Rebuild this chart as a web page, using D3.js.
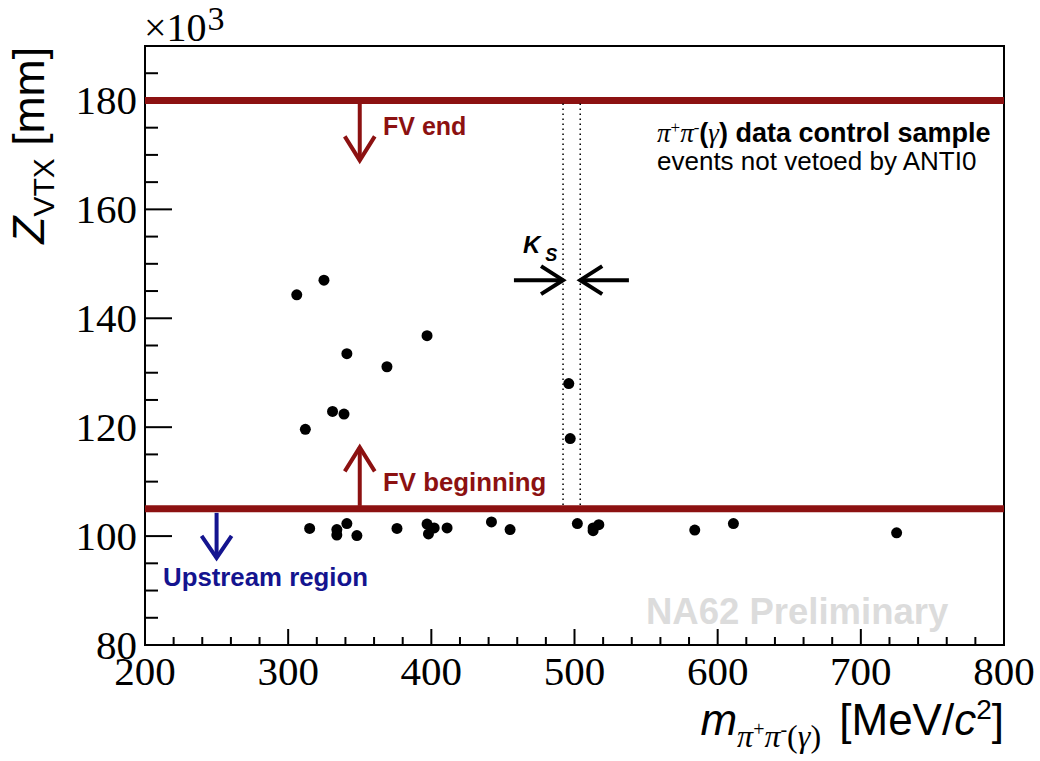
<!DOCTYPE html>
<html>
<head>
<meta charset="utf-8">
<script src="https://cdn.jsdelivr.net/npm/d3@7"></script>
<style>
  body { margin: 0; background: #fff; }
  svg { display: block; }
</style>
</head>
<body>
<div id="chart"></div>
<script>
// Events: invariant mass (MeV/c^2) and Z vertex (x10^3 mm)
const massValues = [306, 325, 397, 341, 369, 331, 339, 312, 496, 497,
  315, 334, 334, 341, 348, 376, 397, 398, 402, 411, 442, 455, 502, 513, 513, 517, 584, 611, 725];
const zvtxValues = [144.3, 147.0, 136.8, 133.5, 131.1, 122.9, 122.4, 119.6, 128.0, 117.9,
  101.4, 101.2, 100.2, 102.3, 100.1, 101.4, 102.2, 100.4, 101.5, 101.5, 102.6, 101.2, 102.3, 101.0, 101.5, 102.1, 101.1, 102.3, 100.6];

const xTicks = [200, 300, 400, 500, 600, 700, 800];
const yTicks = [80, 100, 120, 140, 160, 180];

// fiducial volume limits and K_S mass window
const fvEnd = 180;
const fvBegin = 105;
const ksWindow = [492, 504];

const DARK_RED = '#8c1111';
const DARK_BLUE = '#14148f';

const width = 1040, height = 761;
const margin = { left: 145, right: 36, top: 46, bottom: 116 };

const x = d3.scaleLinear().domain([200, 800]).range([margin.left, width - margin.right]);
const y = d3.scaleLinear().domain([80, 190]).range([height - margin.bottom, margin.top]);

// single family names only: the renderer falls back to its default with lists
const SERIF = "'Liberation Serif'";
const SANS = "'Liberation Sans'";

const svg = d3.select('#chart').append('svg')
  .attr('width', width)
  .attr('height', height);

// small helper to set font styles on a text / tspan
function font(sel, family, size, weight, fstyle) {
  sel.style('font-family', family).style('font-size', size + 'px');
  if (weight) sel.style('font-weight', weight);
  if (fstyle) sel.style('font-style', fstyle);
  return sel;
}

// --- axes (ROOT style: major + minor ticks pointing inward) ---
const xMinor = d3.range(200, 801, 20);
const yMinor = d3.range(80, 191, 5);
const axes = svg.append('g').attr('stroke', '#000').attr('stroke-width', 2);

axes.selectAll('line.xt').data(xMinor).join('line')
  .attr('x1', d => x(d)).attr('x2', d => x(d))
  .attr('y1', y(80)).attr('y2', d => y(80) - (d % 100 === 0 ? 16 : 8));

axes.selectAll('line.yt').data(yMinor).join('line')
  .attr('y1', d => y(d)).attr('y2', d => y(d))
  .attr('x1', x(200)).attr('x2', d => x(200) + (d % 20 === 0 ? 27 : 13));

svg.append('rect')
  .attr('x', x(200)).attr('y', y(190))
  .attr('width', x(800) - x(200)).attr('height', y(80) - y(190))
  .attr('fill', 'none').attr('stroke', '#000').attr('stroke-width', 2);

svg.append('g').selectAll('text').data(xTicks).join('text')
  .call(font, SERIF, 41)
  .attr('x', d => x(d)).attr('y', y(80) + 40)
  .attr('text-anchor', 'middle')
  .text(d => d);

svg.append('g').selectAll('text').data(yTicks).join('text')
  .call(font, SERIF, 41)
  .attr('x', x(200) - 8).attr('y', d => y(d) + 14)
  .attr('text-anchor', 'end')
  .text(d => d);

// x10^3 multiplier
const mult = font(svg.append('text'), SERIF, 40).attr('x', 144).attr('y', 41);
mult.append('tspan').text('×10');
mult.append('tspan').attr('dx', 1).attr('dy', -11).style('font-size', '34px').text('3');

// axis titles
const xt = font(svg.append('text'), SANS, 44)
  .attr('x', x(800)).attr('y', 735)
  .attr('text-anchor', 'end');
xt.append('tspan').style('font-style', 'italic').text('m');
font(xt.append('tspan'), SERIF, 32, null, 'italic').attr('dy', 12).text('π');
font(xt.append('tspan'), SERIF, 20).attr('dy', -11).text('+');
font(xt.append('tspan'), SERIF, 32, null, 'italic').attr('dy', 11).text('π');
font(xt.append('tspan'), SERIF, 20).attr('dy', -11).text('-');
font(xt.append('tspan'), SERIF, 32).attr('dy', 11).text('(');
font(xt.append('tspan'), SERIF, 32, null, 'italic').text('γ');
font(xt.append('tspan'), SERIF, 32).text(')');
xt.append('tspan').attr('dx', 6).attr('dy', -12).text(' [MeV/');
xt.append('tspan').style('font-style', 'italic').text('c');
xt.append('tspan').attr('dy', -16).style('font-size', '28px').text('2');
xt.append('tspan').attr('dy', 16).text(']');

const yt = font(svg.append('text'), SANS, 44.5)
  .attr('transform', `translate(44, ${y(190) + 1}) rotate(-90)`)
  .attr('text-anchor', 'end');
yt.append('tspan').style('font-style', 'italic').text('Z');
yt.append('tspan').attr('dy', 10).style('font-size', '30px').text('VTX');
yt.append('tspan').attr('dy', -10).text(' [mm]');

// --- fiducial volume lines ---
svg.append('g').selectAll('line').data([fvEnd, fvBegin]).join('line')
  .attr('x1', x(200)).attr('x2', x(800))
  .attr('y1', d => y(d)).attr('y2', d => y(d))
  .attr('stroke', DARK_RED).attr('stroke-width', 7);

// K_S mass window (dotted)
svg.append('g').selectAll('line').data(ksWindow).join('line')
  .attr('x1', d => x(d)).attr('x2', d => x(d))
  .attr('y1', y(fvEnd) + 3).attr('y2', y(fvBegin) - 3)
  .attr('stroke', '#000').attr('stroke-width', 1.5)
  .attr('stroke-dasharray', '1.5,3.5');

// open-headed arrow from (x0,y0) to (x1,y1) in pixel space
function arrow(x0, y0, x1, y1, color, headLen, headHalf) {
  const ang = Math.atan2(y1 - y0, x1 - x0);
  const bx = x1 - headLen * Math.cos(ang), by = y1 - headLen * Math.sin(ang);
  const px = -Math.sin(ang) * headHalf, py = Math.cos(ang) * headHalf;
  const g = svg.append('g').attr('stroke', color).attr('stroke-width', 4).attr('fill', 'none');
  g.append('line').attr('x1', x0).attr('y1', y0).attr('x2', x1).attr('y2', y1);
  g.append('path').attr('d', `M${bx + px},${by + py}L${x1},${y1}L${bx - px},${by - py}`);
}

arrow(x(350), y(fvEnd) + 3, x(350), y(169), DARK_RED, 24, 15);
arrow(x(350), y(fvBegin) - 3, x(350), y(116.3), DARK_RED, 24, 15);
arrow(x(250), y(fvBegin) + 4, x(250), y(96), DARK_BLUE, 22, 15);
arrow(x(457.7), y(147), x(ksWindow[0]), y(147), '#000', 22, 14);
arrow(x(538), y(147), x(ksWindow[1]), y(147), '#000', 22, 14);

// --- data points ---
svg.append('g').selectAll('circle').data(massValues).join('circle')
  .attr('cx', d => x(d))
  .attr('cy', (d, i) => y(zvtxValues[i]))
  .attr('r', 5.5)
  .attr('fill', '#000');

// --- annotations ---
font(svg.append('text'), SANS, 25, 'bold').attr('x', 383).attr('y', 135).attr('fill', DARK_RED).text('FV end');
font(svg.append('text'), SANS, 25.8, 'bold').attr('x', 383).attr('y', 491).attr('fill', DARK_RED).text('FV beginning');
font(svg.append('text'), SANS, 25.8, 'bold').attr('x', 163).attr('y', 586).attr('fill', DARK_BLUE).text('Upstream region');

const ks = font(svg.append('text'), SANS, 24, 'bold', 'italic').attr('x', 523).attr('y', 253);
ks.append('tspan').text('K');
ks.append('tspan').attr('dx', 5).attr('dy', 8).style('font-size', '18px').text('S');

const leg = font(svg.append('text'), SANS, 27, 'bold').attr('x', 657).attr('y', 142);
font(leg.append('tspan'), SERIF, 27, 'normal', 'italic').text('π');
font(leg.append('tspan'), SERIF, 17, 'normal').attr('dy', -9).text('+');
font(leg.append('tspan'), SERIF, 27, 'normal', 'italic').attr('dy', 9).text('π');
font(leg.append('tspan'), SERIF, 17, 'normal').attr('dy', -9).text('-');
leg.append('tspan').attr('dy', 9).text('(');
font(leg.append('tspan'), SERIF, 27, 'normal', 'italic').text('γ');
leg.append('tspan').text(') data control sample');

font(svg.append('text'), SANS, 26).attr('x', 657).attr('y', 170).text('events not vetoed by ANTI0');

font(svg.append('text'), SANS, 36.5, 'bold').attr('x', 646).attr('y', 624).attr('fill', '#dcdcdc')
  .text('NA62 Preliminary');
</script>
</body>
</html>
